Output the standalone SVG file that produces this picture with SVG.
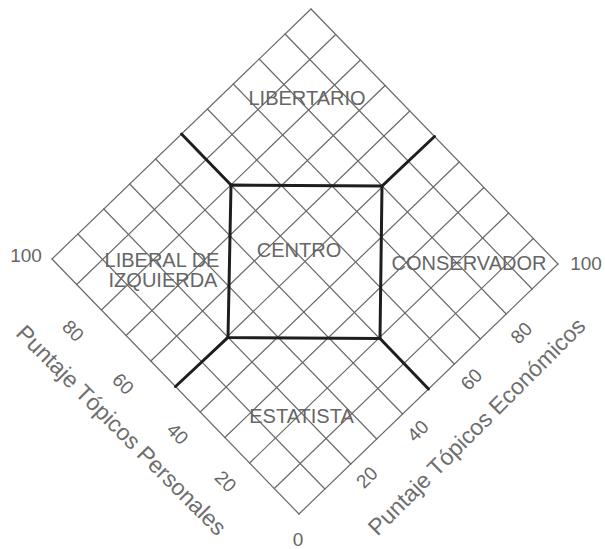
<svg xmlns="http://www.w3.org/2000/svg" width="605" height="549" viewBox="0 0 605 549">
<style>
.g{stroke:#6a6a6a;stroke-width:1.2;fill:none;stroke-linecap:round}
.k{stroke:#1e1e1e;stroke-width:3;fill:none;stroke-linejoin:round;stroke-linecap:round}
.t{font-family:"Liberation Sans",Arial,sans-serif;font-size:19px;fill:#666;text-anchor:middle}
.r{font-size:20px}
.a{font-family:"Liberation Sans",Arial,sans-serif;font-size:23px;fill:#6e6e6e;text-anchor:middle}
</style>
<rect width="605" height="549" fill="#fff"/>
<g id="grid" class="g">
<path d="M311,9L52,259M335.7,34.5L76.7,284.5M360.4,60L101.4,310M385.1,85.5L126.1,335.5M409.8,111L150.8,361M434.5,136.5L175.5,386.5M459.2,162L200.2,412M483.9,187.5L224.9,437.5M508.6,213L249.6,463M533.3,238.5L274.3,488.5M558,264L299,514"/>
<path d="M311,9L558,264M285.1,34L532.1,289M259.2,59L506.2,314M233.3,84L480.3,339M207.4,109L454.4,364M181.5,134L428.5,389M155.6,159L402.6,414M129.7,184L376.7,439M103.8,209L350.8,464M77.9,234L324.9,489M52,259L299,514"/>
</g>
<g id="connectors" class="k">
<path d="M231,185L382,186L380,338.5L228,337.5Z"/>
<path d="M231,185L181.5,134"/>
<path d="M382,186L434.5,136.5"/>
<path d="M228,337.5L175.5,386.5"/>
<path d="M380,338.5L428.5,389"/>
</g>
<g id="libertario"><text class="t r" x="307" y="105">LIBERTARIO</text></g>
<g id="centro"><text class="t r" x="299" y="257">CENTRO</text></g>
<g id="liberal"><text class="t r" x="162" y="267">LIBERAL DE</text><text class="t r" x="163" y="287">IZQUIERDA</text></g>
<g id="conservador"><text class="t r" x="469" y="270">CONSERVADOR</text></g>
<g id="estatista"><text class="t r" x="301.5" y="423">ESTATISTA</text></g>
<g id="scale" class="t">
<text x="26" y="262">100</text>
<text x="586" y="270">100</text>
<text x="298" y="546">0</text>
<text transform="translate(73.5,330.5) rotate(45)" y="7">80</text>
<text transform="translate(123.5,383.5) rotate(45)" y="7">60</text>
<text transform="translate(178,433.5) rotate(45)" y="7">40</text>
<text transform="translate(226,481) rotate(45)" y="7">20</text>
<text transform="translate(521,332.5) rotate(-45)" y="7">80</text>
<text transform="translate(471,379) rotate(-45)" y="7">60</text>
<text transform="translate(417.5,430.5) rotate(-45)" y="7">40</text>
<text transform="translate(366.5,477) rotate(-45)" y="7">20</text>
</g>
<g id="axis-personal"><text class="a" transform="translate(121.5,430) rotate(45)" y="8">Puntaje Tópicos Personales</text></g>
<g id="axis-economic"><text class="a" transform="translate(476.5,426.5) rotate(-45)" y="8">Puntaje Tópicos Económicos</text></g>
</svg>
